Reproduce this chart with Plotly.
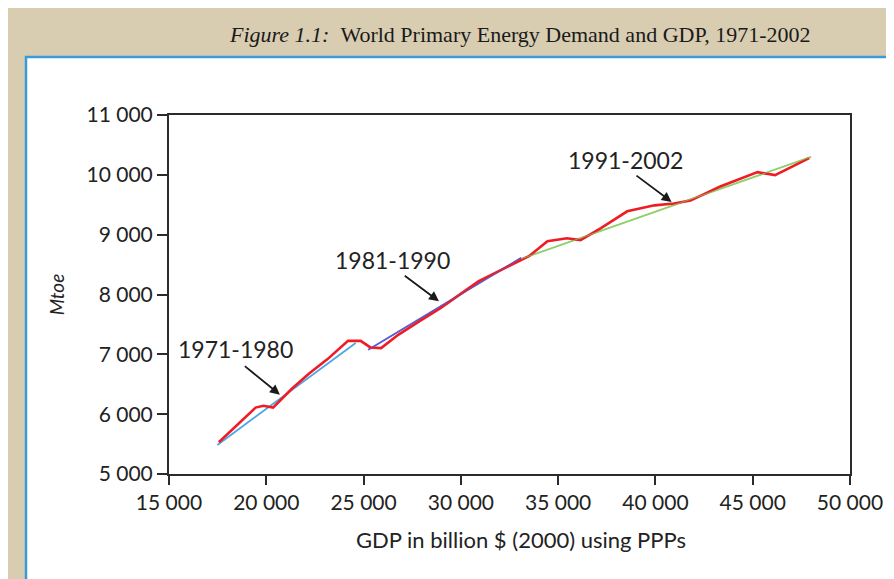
import plotly.graph_objects as go

# ---- data ----
years = list(range(1971, 2003))
gdp = [17560, 18500, 19450, 19850, 20350, 21300, 22200, 23150, 24200, 24850,
       25350, 25900, 26800, 27900, 28950, 29900, 30900, 32000, 33000, 33500,
       34450, 35450, 36150, 37200, 38550, 39950, 40950, 41800, 43300, 45250,
       46150, 47900]
energy = [5530, 5820, 6110, 6140, 6110, 6420, 6680, 6920, 7225, 7225,
          7115, 7105, 7330, 7560, 7770, 7990, 8220, 8400, 8560, 8640,
          8890, 8940, 8910, 9110, 9390, 9490, 9520, 9570, 9800, 10045,
          9995, 10280]

# trend lines per period (endpoints)
fit_7180_x = [17485, 24595]
fit_7180_y = [5485, 7190]
fit_8190_x = [25240, 33100]
fit_8190_y = [7075, 8612]
fit_9102_x = [33100, 48000]
fit_9102_y = [8595, 10300]

period_labels = ["1971-1980", "1981-1990", "1991-2002"]
label_pos_x = [18400, 26480, 38440]
label_pos_y = [7090, 8580, 10255]
arrow_tail_x = [18820, 27040, 38950]
arrow_tail_y = [6823, 8333, 10005]
arrow_head_x = [20700, 28875, 40830]
arrow_head_y = [6326, 7888, 9548]

x_ticks = [15000, 20000, 25000, 30000, 35000, 40000, 45000, 50000]
y_ticks = [5000, 6000, 7000, 8000, 9000, 10000, 11000]

W, H = 894, 579
ML, MR, MT, MB = 161, 52, 107, 113
pw, ph = W - ML - MR, H - MT - MB

def px_x(p):
    return (p - ML) / pw

def px_y(p):
    return (H - MB - p) / ph

FONT = "Lato, 'Noto Sans', sans-serif"
AX = "#2b2b2b"

fig = go.Figure()
fig.add_trace(go.Scatter(x=fit_7180_x, y=fit_7180_y, mode="lines",
                         line=dict(color="#4ea6e6", width=1.8), hoverinfo="skip"))
fig.add_trace(go.Scatter(x=fit_8190_x, y=fit_8190_y, mode="lines",
                         line=dict(color="#5a5ad2", width=1.8), hoverinfo="skip"))
fig.add_trace(go.Scatter(x=fit_9102_x, y=fit_9102_y, mode="lines",
                         line=dict(color="#8fd06a", width=1.8), hoverinfo="skip"))
fig.add_trace(go.Scatter(x=gdp, y=energy, mode="lines", text=years,
                         line=dict(color="#ee1c25", width=2.6)))
fig.add_trace(go.Scatter(x=fit_8190_x, y=fit_8190_y, mode="lines",
                         line=dict(color="#5a5ad2", width=1.0), opacity=0.6,
                         hoverinfo="skip"))
fig.add_trace(go.Scatter(x=fit_9102_x, y=fit_9102_y, mode="lines",
                         line=dict(color="#8fd06a", width=1.0), opacity=0.7,
                         hoverinfo="skip"))

annotations = []
for t, lx, ly, tx, ty, hx, hy in zip(period_labels, label_pos_x, label_pos_y,
                                     arrow_tail_x, arrow_tail_y,
                                     arrow_head_x, arrow_head_y):
    annotations.append(dict(x=lx, y=ly, xref="x", yref="y", text=t,
                            showarrow=False,
                            font=dict(family=FONT, size=23, color="#222")))
    annotations.append(dict(x=hx, y=hy, xref="x", yref="y", ax=tx, ay=ty,
                            axref="x", ayref="y", text="", showarrow=True,
                            arrowhead=2, arrowsize=1.1, arrowwidth=1.8,
                            arrowcolor="#1a1a1a"))

annotations.append(dict(
    x=px_x(512), y=px_y(26), xref="paper", yref="paper",
    text="<i>Figure 1.1:</i>&nbsp;&nbsp;World Primary Energy Demand and GDP, 1971-2002",
    showarrow=False, xanchor="center", yanchor="middle",
    font=dict(family="'Liberation Serif', 'DejaVu Serif', serif", size=22, color="#1a1a1a")))

# x-axis title (placed like the reference, slightly right of the plot centre)
annotations.append(dict(
    x=px_x(513), y=px_y(531), xref="paper", yref="paper",
    text="GDP in billion $ (2000) using PPPs",
    showarrow=False, xanchor="center", yanchor="middle",
    font=dict(family=FONT, size=22, color="#222")))

shapes = [dict(type="rect", xref="paper", yref="paper", layer="below",
               x0=px_x(18), x1=px_x(887), y0=px_y(580), y1=px_y(49),
               fillcolor="white", line=dict(color="#3b9ad8", width=2.5))]

fig.update_layout(
    width=W, height=H,
    margin=dict(l=ML, r=MR, t=MT, b=MB),
    paper_bgcolor="#d8ccb1",
    plot_bgcolor="white",
    showlegend=False,
    separators=". ",
    shapes=shapes,
    annotations=annotations,
    font=dict(family=FONT, color="#222"),
)
fig.update_xaxes(
    range=[15000, 50000], tickvals=x_ticks, tickformat=",d",
    showgrid=False, zeroline=False,
    showline=True, linecolor=AX, linewidth=2, mirror=True,
    ticks="outside", ticklen=9, tickwidth=2, tickcolor=AX,
    tickfont=dict(family=FONT, size=21, color="#222"),
)
fig.update_yaxes(
    range=[5000, 11000], tickvals=y_ticks, tickformat=",d",
    showgrid=False, zeroline=False,
    showline=True, linecolor=AX, linewidth=2, mirror=True,
    ticks="outside", ticklen=10, tickwidth=2, tickcolor=AX,
    tickfont=dict(family=FONT, size=21, color="#222"),
    title=dict(text="<i>Mtoe</i>", standoff=17,
               font=dict(family=FONT, size=19, color="#222")),
)

fig.write_html("out.html")
